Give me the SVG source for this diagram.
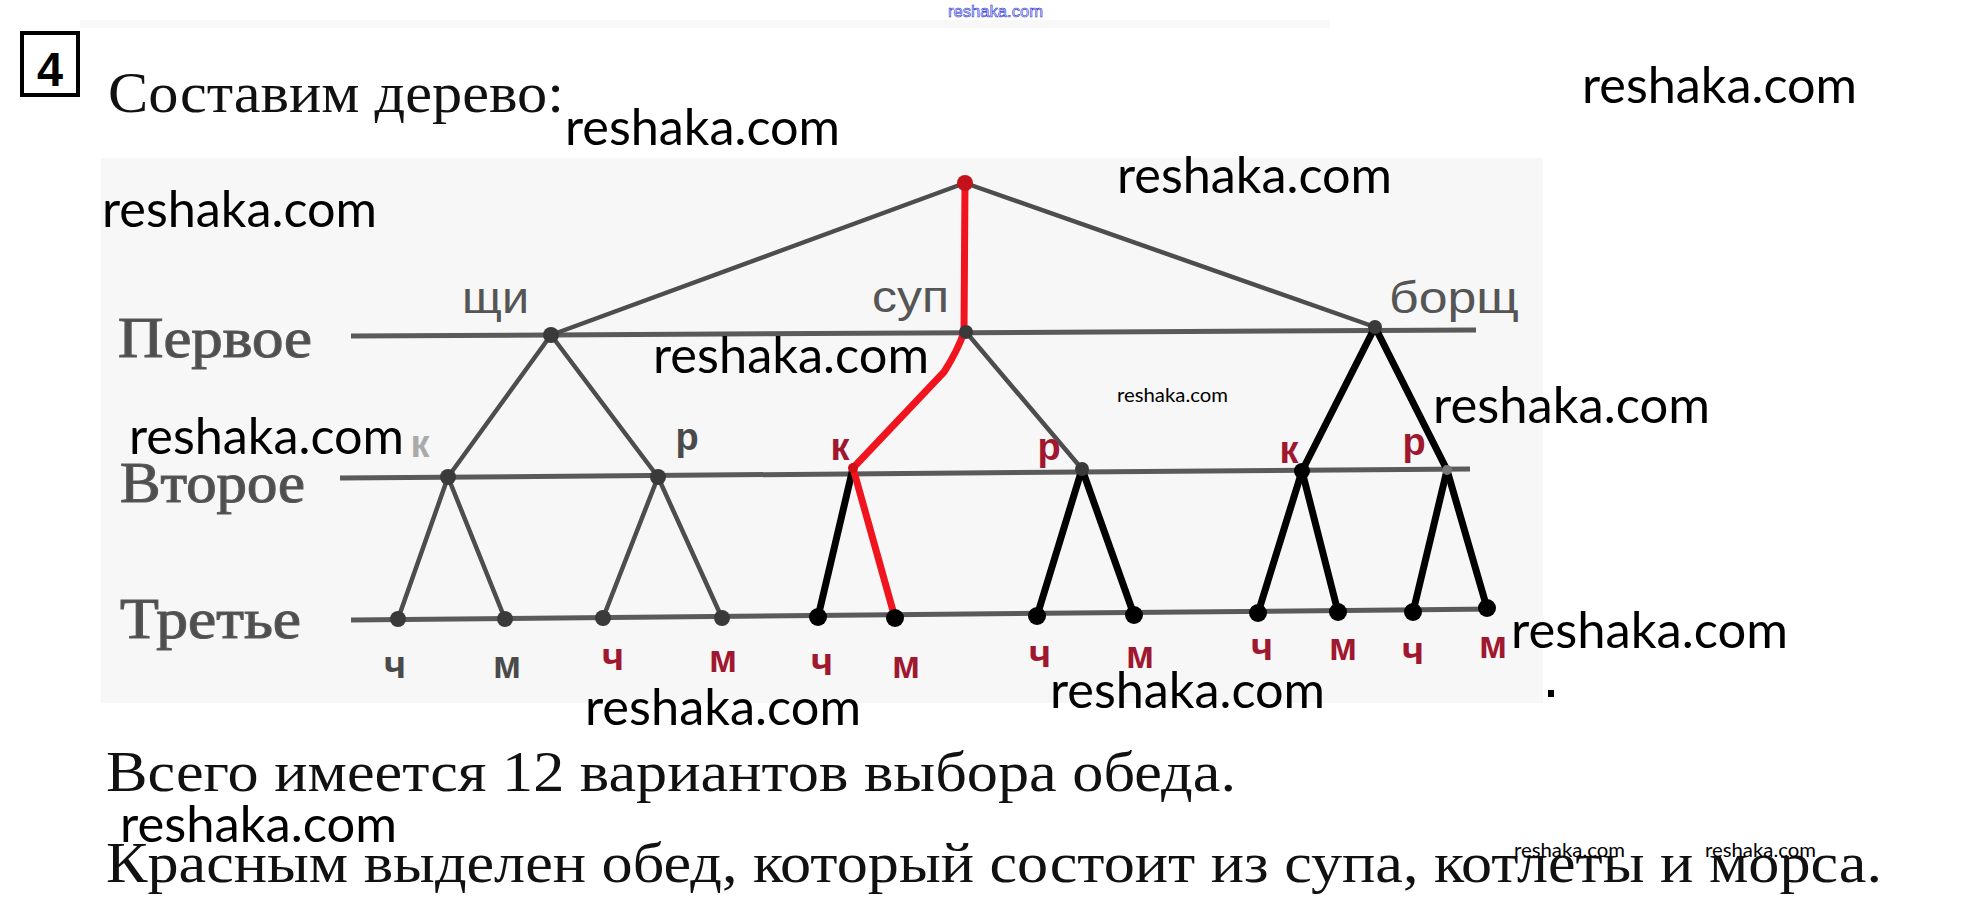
<svg xmlns="http://www.w3.org/2000/svg" width="1987" height="920" viewBox="0 0 1987 920">
<style>
.serif{font-family:"Liberation Serif","DejaVu Serif",serif;fill:#111}
.lvl{font-family:"Liberation Serif","DejaVu Serif",serif;font-size:56px;fill:#4e4e4e;stroke:#5a5a5a;stroke-width:1.2}
.top{font-family:"Liberation Sans",Arial,sans-serif;font-size:44px;fill:#555}
.lab{font-family:"Liberation Sans",Arial,sans-serif;font-size:38px;font-weight:bold;fill:#a01830;text-anchor:middle}
.lab.g{fill:#4a4a4a}
.wm{font-family:Lato,"Open Sans",sans-serif;font-size:50px;fill:#000}
.wms{font-family:Lato,"Open Sans",sans-serif;font-size:19px;fill:#000}
.level{stroke:#5a5a5a;stroke-width:5;fill:none}
.g-edge{stroke:#4d4d4d;stroke-width:4.5;fill:none;stroke-linecap:round}
.b-edge{stroke:#000;stroke-width:7;fill:none;stroke-linecap:round}
.r-edge{stroke:#f0141e;stroke-width:7;fill:none;stroke-linecap:round}
.dg{fill:#3a3a3a}
.db{fill:#000}
</style>
<rect width="1987" height="920" fill="#fff"/>
<rect x="80" y="20" width="1250" height="8" fill="#f8f8f8"/>
<rect x="101" y="158" width="1442" height="545" fill="#f7f7f7"/>

<text x="948" y="17" font-family="Liberation Sans,Arial,sans-serif" font-size="17" fill="#e8e8ff" stroke="#2630d0" stroke-width="0.6" textLength="95" lengthAdjust="spacingAndGlyphs">reshaka.com</text>

<g id="number">
<rect x="22" y="33" width="56" height="62" fill="none" stroke="#000" stroke-width="4"/>
<text x="50" y="86" font-family="Liberation Sans,Arial,sans-serif" font-size="48" font-weight="bold" text-anchor="middle" textLength="26" lengthAdjust="spacingAndGlyphs">4</text>
</g>
<text class="serif" x="108" y="112" font-size="56" textLength="456" lengthAdjust="spacingAndGlyphs">Составим дерево:</text>

<g id="levels">
<line class="level" x1="351" y1="336" x2="1476" y2="330"/>
<line class="level" x1="340" y1="478" x2="1470" y2="469"/>
<line class="level" x1="351" y1="620" x2="1494" y2="609"/>
<text class="lvl" x="118" y="357" textLength="194" lengthAdjust="spacingAndGlyphs">Первое</text>
<text class="lvl" x="120" y="502" textLength="185" lengthAdjust="spacingAndGlyphs">Второе</text>
<text class="lvl" x="120" y="638" textLength="181" lengthAdjust="spacingAndGlyphs">Третье</text>
</g>

<g id="connectors">
<line class="g-edge" x1="965" y1="183" x2="551" y2="335"/>
<line class="g-edge" x1="965" y1="183" x2="1375" y2="327"/>
<line class="g-edge" x1="551" y1="335" x2="448" y2="477"/>
<line class="g-edge" x1="551" y1="335" x2="658" y2="477"/>
<line class="g-edge" x1="448" y1="477" x2="398" y2="619"/>
<line class="g-edge" x1="448" y1="477" x2="505" y2="619"/>
<line class="g-edge" x1="658" y1="477" x2="603" y2="618"/>
<line class="g-edge" x1="658" y1="477" x2="722" y2="618"/>
<line class="g-edge" x1="966" y1="332" x2="1082" y2="469"/>
<line class="b-edge" x1="853" y1="468" x2="818" y2="617"/>
<line class="b-edge" x1="1082" y1="469" x2="1037" y2="616"/>
<line class="b-edge" x1="1082" y1="469" x2="1134" y2="615"/>
<line class="b-edge" x1="1375" y1="327" x2="1302" y2="471"/>
<line class="b-edge" x1="1375" y1="327" x2="1447" y2="470"/>
<line class="b-edge" x1="1302" y1="471" x2="1258" y2="613"/>
<line class="b-edge" x1="1302" y1="471" x2="1338" y2="612"/>
<line class="b-edge" x1="1447" y1="470" x2="1413" y2="612"/>
<line class="b-edge" x1="1447" y1="470" x2="1487" y2="608"/>
<line class="r-edge" x1="965" y1="183" x2="964" y2="332"/>
<path class="r-edge" d="M964 332 Q958 350 944 372 L853 468"/>
<line class="r-edge" x1="853" y1="468" x2="895" y2="618"/>
</g>

<g id="root"><circle cx="965" cy="183" r="8" fill="#c4121c"/></g>
<g id="n-shchi"><circle class="dg" cx="551" cy="335" r="8"/><text class="top" x="462" y="313" textLength="67" lengthAdjust="spacingAndGlyphs">щи</text></g>
<g id="n-sup"><circle class="dg" cx="966" cy="332" r="7"/><text class="top" x="872" y="312" textLength="77" lengthAdjust="spacingAndGlyphs">суп</text></g>
<g id="n-borshch"><circle class="dg" cx="1375" cy="327" r="7"/><text class="top" x="1389" y="313" textLength="130" lengthAdjust="spacingAndGlyphs">борщ</text></g>

<g id="n-k1"><circle class="dg" cx="448" cy="477" r="8"/><text class="lab" x="420" y="457" style="fill:#aaa">к</text></g>
<g id="n-r1"><circle class="dg" cx="658" cy="477" r="8"/><text class="lab g" x="687" y="450">р</text></g>
<g id="n-k2"><circle cx="853" cy="468" r="5" fill="#d01018"/><text class="lab" x="840" y="460">к</text></g>
<g id="n-r2"><circle class="dg" cx="1082" cy="469" r="7"/><text class="lab" x="1049" y="460">р</text></g>
<g id="n-k3"><circle class="db" cx="1302" cy="471" r="8"/><text class="lab" x="1289" y="463">к</text></g>
<g id="n-r3"><circle cx="1447" cy="470" r="5" fill="#777"/><text class="lab" x="1414" y="455">р</text></g>

<g id="leaf1"><circle class="dg" cx="398" cy="619" r="8"/><text class="lab g" x="395" y="678">ч</text></g>
<g id="leaf2"><circle class="dg" cx="505" cy="619" r="8"/><text class="lab g" x="507" y="678">м</text></g>
<g id="leaf3"><circle class="dg" cx="603" cy="618" r="8"/><text class="lab" x="613" y="670">ч</text></g>
<g id="leaf4"><circle class="dg" cx="722" cy="618" r="8"/><text class="lab" x="723" y="672">м</text></g>
<g id="leaf5"><circle class="db" cx="818" cy="617" r="9"/><text class="lab" x="822" y="675">ч</text></g>
<g id="leaf6"><circle class="db" cx="895" cy="618" r="9"/><text class="lab" x="906" y="678">м</text></g>
<g id="leaf7"><circle class="db" cx="1037" cy="616" r="9"/><text class="lab" x="1040" y="667">ч</text></g>
<g id="leaf8"><circle class="db" cx="1134" cy="615" r="9"/><text class="lab" x="1140" y="668">м</text></g>
<g id="leaf9"><circle class="db" cx="1258" cy="613" r="9"/><text class="lab" x="1262" y="660">ч</text></g>
<g id="leaf10"><circle class="db" cx="1338" cy="612" r="9"/><text class="lab" x="1343" y="660">м</text></g>
<g id="leaf11"><circle class="db" cx="1413" cy="612" r="9"/><text class="lab" x="1413" y="664">ч</text></g>
<g id="leaf12"><circle class="db" cx="1487" cy="608" r="9"/><text class="lab" x="1493" y="658">м</text></g>

<rect x="1548" y="690" width="6" height="7" fill="#000"/>

<text class="serif" x="106" y="791" font-size="56" textLength="1130" lengthAdjust="spacingAndGlyphs">Всего имеется 12 вариантов выбора обеда.</text>
<text class="serif" x="106" y="882" font-size="56" textLength="1776" lengthAdjust="spacingAndGlyphs">Красным выделен обед, который состоит из супа, котлеты и морса.</text>

<g id="watermarks">
<text class="wm" x="1582" y="103" textLength="275" lengthAdjust="spacingAndGlyphs">reshaka.com</text>
<text class="wm" x="565" y="145" textLength="275" lengthAdjust="spacingAndGlyphs">reshaka.com</text>
<text class="wm" x="1117" y="193" textLength="275" lengthAdjust="spacingAndGlyphs">reshaka.com</text>
<text class="wm" x="102" y="227" textLength="275" lengthAdjust="spacingAndGlyphs">reshaka.com</text>
<text class="wm" x="653" y="373" textLength="276" lengthAdjust="spacingAndGlyphs">reshaka.com</text>
<text class="wms" x="1117" y="402" textLength="111" lengthAdjust="spacingAndGlyphs">reshaka.com</text>
<text class="wm" x="1433" y="423" textLength="277" lengthAdjust="spacingAndGlyphs">reshaka.com</text>
<text class="wm" x="129" y="454" textLength="275" lengthAdjust="spacingAndGlyphs">reshaka.com</text>
<text class="wm" x="1511" y="648" textLength="277" lengthAdjust="spacingAndGlyphs">reshaka.com</text>
<text class="wm" x="1050" y="708" textLength="275" lengthAdjust="spacingAndGlyphs">reshaka.com</text>
<text class="wm" x="585" y="725" textLength="276" lengthAdjust="spacingAndGlyphs">reshaka.com</text>
<text class="wm" x="120" y="842" textLength="277" lengthAdjust="spacingAndGlyphs">reshaka.com</text>
<text class="wms" x="1514" y="857" textLength="111" lengthAdjust="spacingAndGlyphs">reshaka.com</text>
<text class="wms" x="1705" y="857" textLength="111" lengthAdjust="spacingAndGlyphs">reshaka.com</text>
</g>
</svg>
